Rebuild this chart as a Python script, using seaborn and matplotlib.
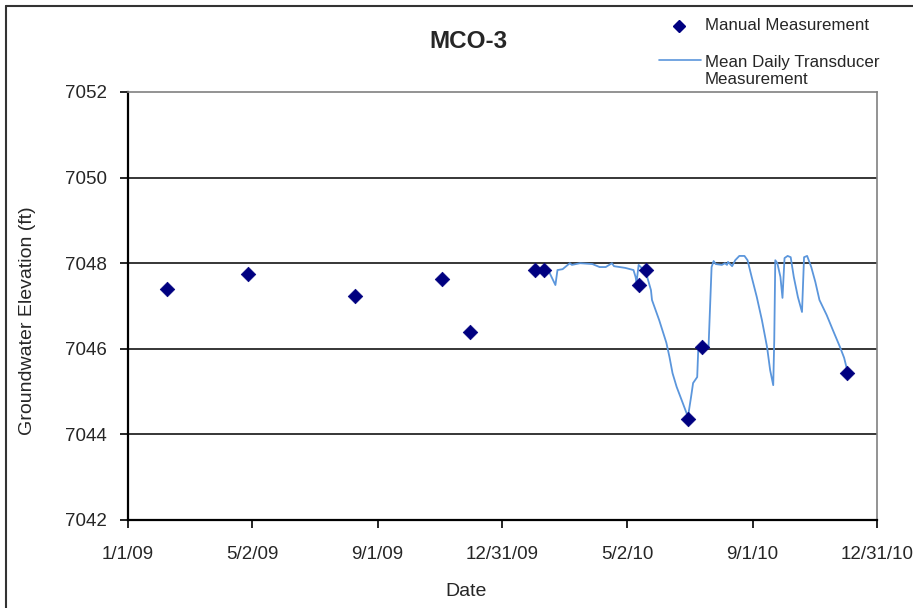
import matplotlib
matplotlib.use("Agg")
import matplotlib.pyplot as plt
from matplotlib.lines import Line2D
import seaborn as sns
import pandas as pd

# ---- data ----
manual_dates = ["2009-02-08", "2009-04-28", "2009-08-10", "2009-11-03", "2009-11-30",
                "2010-02-01", "2010-02-10", "2010-05-13", "2010-05-20", "2010-06-30",
                "2010-07-14", "2010-12-02"]
manual_values = [7047.40, 7047.75, 7047.23, 7047.63, 7046.39,
                 7047.84, 7047.84, 7047.49, 7047.84, 7044.36,
                 7046.04, 7045.43]

trans_dates = ["2010-02-10", "2010-02-15", "2010-02-21", "2010-02-23", "2010-02-28",
               "2010-03-07", "2010-03-09", "2010-03-17", "2010-03-29", "2010-04-05",
               "2010-04-11", "2010-04-17", "2010-04-19", "2010-04-30", "2010-05-08",
               "2010-05-10", "2010-05-11", "2010-05-13", "2010-05-20", "2010-05-25",
               "2010-05-26", "2010-06-02", "2010-06-09", "2010-06-12", "2010-06-15",
               "2010-06-19", "2010-06-25", "2010-06-30", "2010-07-03", "2010-07-05",
               "2010-07-09", "2010-07-10", "2010-07-11", "2010-07-20", "2010-07-23",
               "2010-07-25", "2010-07-27", "2010-08-02", "2010-08-05", "2010-08-07",
               "2010-08-08", "2010-08-12", "2010-08-15", "2010-08-19", "2010-08-24",
               "2010-08-27", "2010-08-31", "2010-09-05", "2010-09-10", "2010-09-15",
               "2010-09-18", "2010-09-21", "2010-09-22", "2010-09-23", "2010-09-25",
               "2010-09-28", "2010-09-30", "2010-10-02", "2010-10-05", "2010-10-08",
               "2010-10-11", "2010-10-15", "2010-10-19", "2010-10-21", "2010-10-24",
               "2010-10-28", "2010-11-01", "2010-11-05", "2010-11-12", "2010-11-18",
               "2010-11-25", "2010-11-29", "2010-12-02"]
trans_values = [7047.84, 7047.79, 7047.49, 7047.84, 7047.86,
                7048.00, 7047.96, 7048.00, 7047.98, 7047.91,
                7047.91, 7048.00, 7047.93, 7047.89, 7047.84,
                7047.68, 7047.56, 7047.96, 7047.79, 7047.37,
                7047.14, 7046.67, 7046.14, 7045.81, 7045.43,
                7045.11, 7044.73, 7044.41, 7044.87, 7045.20,
                7045.34, 7045.97, 7046.04, 7046.02, 7047.91,
                7048.05, 7047.98, 7047.96, 7048.00, 7047.96,
                7048.03, 7047.93, 7048.07, 7048.17, 7048.17,
                7048.07, 7047.68, 7047.21, 7046.67, 7046.04,
                7045.50, 7045.15, 7046.21, 7048.07, 7048.00,
                7047.68, 7047.19, 7048.12, 7048.17, 7048.14,
                7047.68, 7047.21, 7046.86, 7048.14, 7048.17,
                7047.91, 7047.56, 7047.14, 7046.79, 7046.44,
                7046.04, 7045.79, 7045.50]

tick_dates = ["2009-01-01", "2009-05-02", "2009-09-01", "2009-12-31",
              "2010-05-02", "2010-09-01", "2010-12-31"]
tick_labels = ["1/1/09", "5/2/09", "9/1/09", "12/31/09", "5/2/10", "9/1/10", "12/31/10"]
y_ticks = [7042, 7044, 7046, 7048, 7050, 7052]

manual_df = pd.DataFrame({"Date": pd.to_datetime(manual_dates), "Elev": manual_values})
trans_df = pd.DataFrame({"Date": pd.to_datetime(trans_dates), "Elev": trans_values})

sns.set_style("white")
plt.rcParams["font.family"] = ["Liberation Sans", "DejaVu Sans"]

W, H = 913, 608
fig = plt.figure(figsize=(W / 100, H / 100), dpi=100)
ax = fig.add_axes([128 / W, 1 - 520 / H, (877 - 128) / W, (520 - 92) / H])

LINE_C = "#5b96dc"
MARK_C = "#000080"

# gridlines
for yv in y_ticks[1:-1]:
    ax.axhline(yv, color="black", lw=1.1, zorder=1)

sns.lineplot(data=trans_df, x="Date", y="Elev", ax=ax, color=LINE_C, lw=1.3,
             zorder=2, legend=False)
sns.scatterplot(data=manual_df, x="Date", y="Elev", ax=ax, marker="D", s=55,
                color=MARK_C, edgecolor=MARK_C, linewidth=0.5, zorder=3, legend=False)

ax.set_xlim(pd.Timestamp("2009-01-01"), pd.Timestamp("2010-12-31"))
ax.set_ylim(7042, 7052)
ax.set_yticks(y_ticks)
ax.set_yticklabels([str(v) for v in y_ticks], fontsize=13.5)
ax.set_xticks(pd.to_datetime(tick_dates))
ax.set_xticklabels(tick_labels, fontsize=13.5)
ax.tick_params(axis="both", direction="out", length=6, width=1.2, color="black",
               bottom=True, left=True)
ax.tick_params(axis="y", pad=9)
ax.tick_params(axis="x", pad=13)

for side in ["left", "bottom"]:
    ax.spines[side].set_color("black")
    ax.spines[side].set_linewidth(1.6)
for side in ["top", "right"]:
    ax.spines[side].set_color("#808080")
    ax.spines[side].set_linewidth(1.2)

ax.set_xlabel("Date", fontsize=14)
ax.set_ylabel("Groundwater Elevation (ft)", fontsize=14)
ax.xaxis.label.set_va("center")
ax.xaxis.set_label_coords((466 - 128) / 749, (520 - 592) / 428)
ax.yaxis.label.set_va("center")
ax.yaxis.set_label_coords((28 - 128) / 749, (520 - 321) / 428)

fig.text(468 / W, 1 - 41 / H, "MCO-3", fontsize=17.5, fontweight="bold",
         ha="center", va="center")

# legend (outside plot area, top right)
fig.add_artist(Line2D([679 / W], [1 - 26 / H], marker="D", color=MARK_C, ls="none",
                      markersize=6, transform=fig.transFigure))
fig.text(705 / W, 1 - 26 / H, "Manual Measurement", fontsize=12.2,
         ha="left", va="center")
fig.add_artist(Line2D([659 / W, 701 / W], [1 - 60 / H, 1 - 60 / H], color=LINE_C,
                      lw=1.2, transform=fig.transFigure))
fig.text(705 / W, 1 - 62 / H, "Mean Daily Transducer", fontsize=12.2,
         ha="left", va="center")
fig.text(705 / W, 1 - 79 / H, "Measurement", fontsize=12.2,
         ha="left", va="center")

# outer chart border (left and top visible)
fig.add_artist(Line2D([6 / W, 6 / W], [0, 1 - 6 / H], transform=fig.transFigure,
                      color="#333333", lw=1.5))
fig.add_artist(Line2D([6 / W, 1], [1 - 6 / H, 1 - 6 / H], transform=fig.transFigure,
                      color="#333333", lw=1.5))

fig.savefig("out.png", dpi=100)
